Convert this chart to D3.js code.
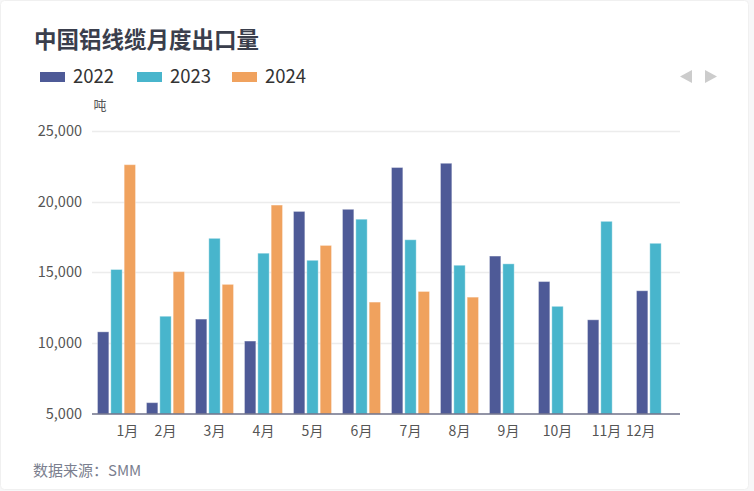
<!DOCTYPE html>
<html><head><meta charset="utf-8">
<script src="https://cdn.jsdelivr.net/npm/d3@7/dist/d3.min.js"></script>
<style>
html,body{margin:0;padding:0;background:#f7f7f8;}
svg{display:block;font-family:"Noto Sans CJK SC","Noto Sans",sans-serif;}
</style></head>
<body>
<svg id="chart" width="754" height="491"></svg>
<script>
const title = "中国铝线缆月度出口量";
const months = ["1月","2月","3月","4月","5月","6月","7月","8月","9月","10月","11月","12月"];
const seriesNames = ["2022","2023","2024"];
const values2022 = [10800, 5800, 11700, 10150, 19300, 19450, 22400, 22700, 16150, 14350, 11650, 13700];
const values2023 = [15200, 11900, 17400, 16350, 15850, 18750, 17300, 15500, 15600, 12600, 18600, 17050];
const values2024 = [22600, 15050, 14150, 19750, 16900, 12900, 13650, 13250, null, null, null, null];
const yTicks = [5000, 10000, 15000, 20000, 25000];
const colors = ["#4e5a97", "#48b5cc", "#f0a25e"];
const unitLabel = "吨";
const sourceText = "数据来源：SMM";

const seriesValues = [values2022, values2023, values2024];
const svg = d3.select("#chart");

// card background
svg.append("rect").attr("x",0.5).attr("y",0.5).attr("width",748).attr("height",489)
  .attr("rx",4).attr("fill","#fff").attr("stroke","#f0f0f0");

const plotLeft = 92, plotRight = 680, plotTop = 130.7, plotBottom = 414;

const x = d3.scaleBand().domain(months).range([plotLeft, plotRight]).paddingInner(0.224).paddingOuter(0.112);
const xs = d3.scaleBand().domain(seriesNames).range([0, x.bandwidth()]).paddingInner(0.15).paddingOuter(0);
const y = d3.scaleLinear().domain([5000, 25000]).range([plotBottom, plotTop]);

// title
svg.append("text").attr("x",34).attr("y",48).attr("font-size",22.5).attr("font-weight","bold")
  .attr("fill","#3a3e4c").text(title);

// legend
const legendX = [40, 137, 232];
seriesNames.forEach((s,i)=>{
  const g = svg.append("g").attr("transform",`translate(${legendX[i]},0)`);
  g.append("rect").attr("x",0).attr("y",72).attr("width",25).attr("height",10).attr("fill",colors[i]);
  g.append("text").attr("x",33).attr("y",83).attr("font-size",18.5).attr("fill","#333").text(s);
});
// legend paging arrows
svg.append("path").attr("d","M692,70 L692,83 L680,76.5 Z").attr("fill","#cccccc");
svg.append("path").attr("d","M705,70 L705,83 L717,76.5 Z").attr("fill","#cccccc");

// unit label
svg.append("text").attr("x",100).attr("y",110).attr("text-anchor","middle").attr("font-size",13)
  .attr("fill","#555").text(unitLabel);

// grid lines
svg.append("g").selectAll("line").data(yTicks.filter(t=>t>5000)).join("line")
  .attr("x1",plotLeft).attr("x2",plotRight).attr("y1",d=>Math.round(y(d))+0.5).attr("y2",d=>Math.round(y(d))+0.5)
  .attr("stroke","#ececec").attr("stroke-width",1.5);

// y axis labels
const yAxis = d3.axisLeft(y).tickValues(yTicks).tickSize(0).tickPadding(10).tickFormat(d3.format(","));
const gy = svg.append("g").attr("transform",`translate(${plotLeft},0)`).call(yAxis);
gy.select(".domain").remove();
gy.selectAll("text").attr("font-size",14.5).attr("fill","#555").attr("font-family","'Noto Sans CJK SC','Noto Sans',sans-serif");

// bars
const groups = svg.append("g").selectAll("g").data(months).join("g")
  .attr("transform",d=>`translate(${x(d)},0)`);
groups.selectAll("rect").data((m,mi)=>seriesNames.map((s,si)=>({s, si, v: seriesValues[si][mi]})).filter(d=>d.v!=null))
  .join("rect")
  .attr("x",d=>xs(d.s)).attr("width",xs.bandwidth())
  .attr("y",d=>y(d.v)).attr("height",d=>plotBottom - y(d.v))
  .attr("fill",d=>colors[d.si])
  .attr("stroke","rgba(255,255,255,0.35)").attr("stroke-width",1);

// x axis
const xAxis = d3.axisBottom(x).tickSize(0).tickPadding(12);
const gx = svg.append("g").attr("transform",`translate(0,${plotBottom})`).call(xAxis);
gx.select(".domain").attr("stroke","#6e7089").attr("stroke-width",1.5).attr("d",`M${plotLeft},0H${plotRight}`);
gx.selectAll("text").attr("font-size",14).attr("fill","#555").attr("font-family","'Noto Sans CJK SC','Noto Sans',sans-serif");
gx.selectAll(".tick").each(function(d,i){
  const t = d3.select(this).select("text");
  if(i===0) t.attr("text-anchor","start");
  if(i===months.length-1) t.attr("text-anchor","end");
});

// source
svg.append("text").attr("x",33).attr("y",476).attr("font-size",15).attr("fill","#7b7f8f").text(sourceText);
</script>
</body></html>
